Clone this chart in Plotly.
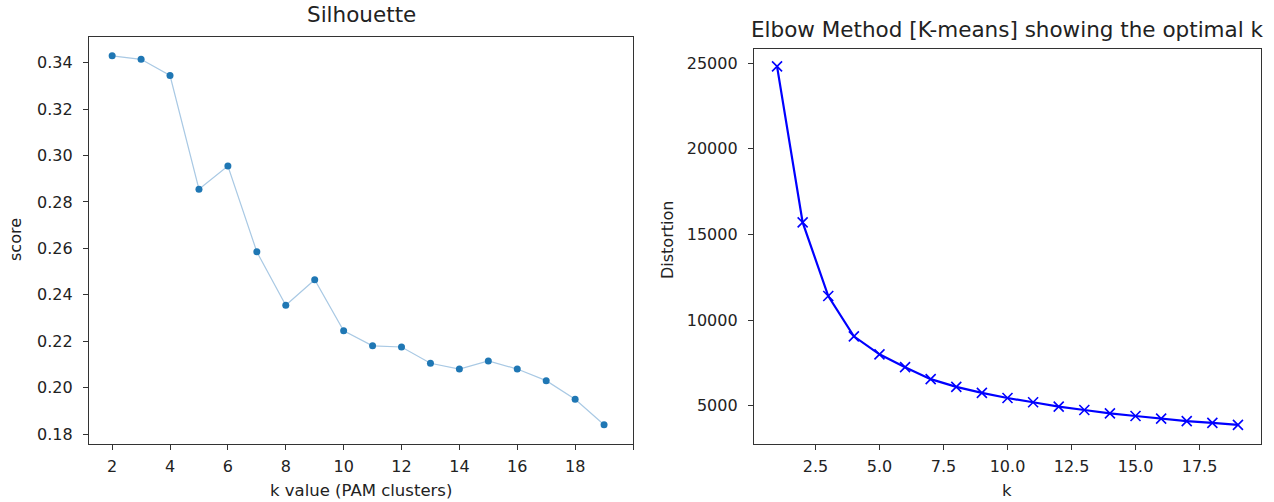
import plotly.graph_objects as go

# Silhouette (PAM)
k_pam = [2, 3, 4, 5, 6, 7, 8, 9, 10, 11, 12, 13, 14, 15, 16, 17, 18, 19]
sil_score = [0.343, 0.3415, 0.3345, 0.2855, 0.2955, 0.2585, 0.2355, 0.2465, 0.2245,
             0.218, 0.2175, 0.2105, 0.208, 0.2115, 0.208, 0.203, 0.195, 0.184]

# Elbow (K-means)
k_km = list(range(1, 20))
distortion = [24800, 15700, 11400, 9050, 8000, 7250, 6550, 6100, 5750, 5450,
              5200, 4950, 4750, 4550, 4400, 4250, 4100, 4000, 3880]

left_xticks = [2, 4, 6, 8, 10, 12, 14, 16, 18, 20]
left_xticktext = ["2", "4", "6", "8", "10", "12", "14", "16", "18", ""]
left_yticks = [0.18, 0.20, 0.22, 0.24, 0.26, 0.28, 0.30, 0.32, 0.34]
right_xticks = [2.5, 5.0, 7.5, 10.0, 12.5, 15.0, 17.5]
right_yticks = [5000, 10000, 15000, 20000, 25000]

W, H = 1274, 502
FONT = "DejaVu Sans"
TXT = "#222222"

def px(x):
    return x / W

def py(y):
    return 1 - y / H

fig = go.Figure()
fig.add_trace(go.Scatter(
    x=k_pam, y=sil_score, mode="lines+markers",
    line=dict(color="#a9c9e4", width=1.2),
    marker=dict(color="#1f77b4", size=7),
    xaxis="x", yaxis="y", showlegend=False))
fig.add_trace(go.Scatter(
    x=k_km, y=distortion, mode="lines+markers",
    line=dict(color="#0000ff", width=2.2),
    marker=dict(color="#0000ff", size=10, symbol="x-thin", line=dict(color="#0000ff", width=1.6)),
    xaxis="x2", yaxis="y2", showlegend=False))

axis_common = dict(
    showgrid=False, zeroline=False, showline=True, linecolor="#333333", linewidth=1.3,
    mirror=True, ticks="outside", ticklen=5, tickwidth=1, tickcolor="#333333",
    tickfont=dict(family=FONT, size=16, color=TXT),
)

fig.update_layout(
    width=W, height=H,
    margin=dict(l=0, r=0, t=0, b=0),
    paper_bgcolor="white", plot_bgcolor="white",
    xaxis=dict(domain=[px(89), px(633)], range=[1.2, 20.0], tickvals=left_xticks,
               ticktext=left_xticktext, anchor="y", ticklabelstandoff=3, **axis_common),
    yaxis=dict(domain=[py(444), py(37)], range=[0.1757, 0.3511], tickvals=left_yticks,
               tickformat=".2f", anchor="x", ticklabelstandoff=7, **axis_common),
    xaxis2=dict(domain=[px(754), px(1261)], range=[0.1, 19.9], tickvals=right_xticks,
                tickformat=".1f", anchor="y2", ticklabelstandoff=3, **axis_common),
    yaxis2=dict(domain=[py(444), py(49)], range=[2766, 25817], tickvals=right_yticks,
                tickformat="d", anchor="x2", ticklabelstandoff=7, **axis_common),
)

ann = [
    dict(text="Silhouette", x=px(361), y=py(15), size=21.5),
    dict(text="Elbow Method [K-means] showing the optimal k", x=px(1007), y=py(30), size=21.5),
    dict(text="k value (PAM clusters)", x=px(361), y=py(490), size=16.5),
    dict(text="k", x=px(1007), y=py(490), size=16.5),
]
for a in ann:
    fig.add_annotation(text=a["text"], x=a["x"], y=a["y"], xref="paper", yref="paper",
                       xanchor="center", yanchor="middle", showarrow=False,
                       font=dict(family=FONT, size=a["size"], color=TXT))
fig.add_annotation(text="score", x=px(15), y=py(240), xref="paper", yref="paper",
                   textangle=-90, xanchor="center", yanchor="middle", showarrow=False,
                   font=dict(family=FONT, size=16, color=TXT))
fig.add_annotation(text="Distortion", x=px(667), y=py(240), xref="paper", yref="paper",
                   textangle=-90, xanchor="center", yanchor="middle", showarrow=False,
                   font=dict(family=FONT, size=16, color=TXT))

fig.write_html("out.html")
